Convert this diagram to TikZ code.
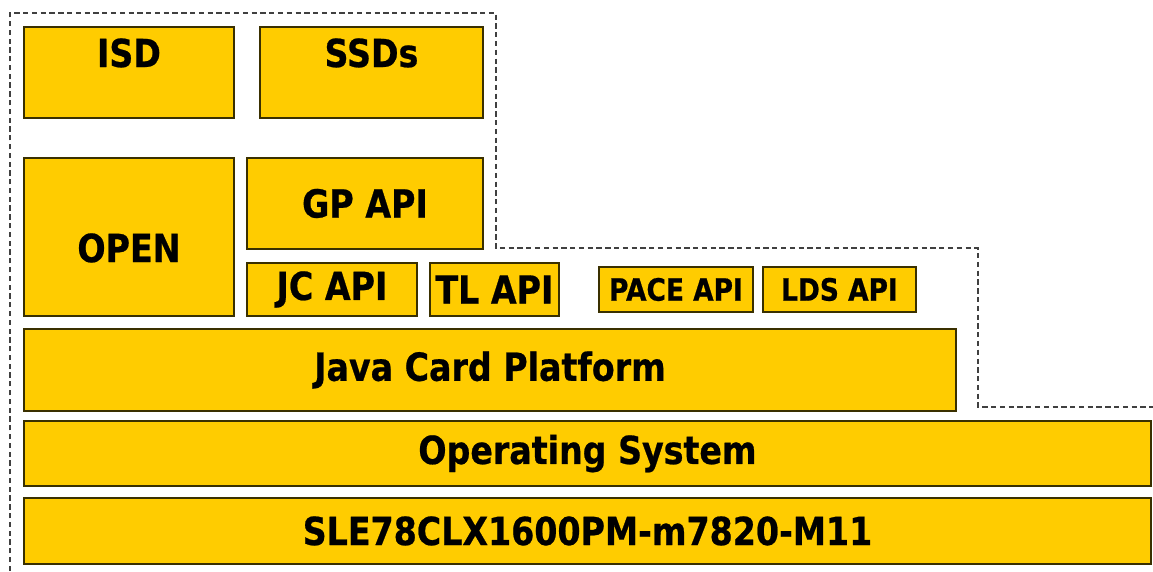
\documentclass[tikz,border=0pt]{standalone}
\usepackage{fontspec}
\setmainfont{DejaVu Sans}[FakeStretch=0.86, BoldFeatures={FakeBold=0.6}]
\usepackage{tikz}
\usetikzlibrary{positioning}
\definecolor{cardgold}{HTML}{FFCC00}
\definecolor{cardedge}{HTML}{3A3000}
\tikzset{
    layer/.style={rectangle, draw=cardedge, fill=cardgold, line width=1.1pt, anchor=north west, text centered, inner sep=0pt, font=\bfseries\fontsize{22}{26}\selectfont},
    api/.style={layer, font=\bfseries\fontsize{17.5}{20}\selectfont},
    toplabel/.style={anchor=north, inner sep=0pt, yshift=-0.24cm, font=\bfseries\fontsize{22}{26}\selectfont},
    midlabel/.style={inner sep=0pt, yshift=-0.22cm, font=\bfseries\fontsize{22}{26}\selectfont},
    boundary/.style={draw=black!75, line width=0.6pt, dash pattern=on 3pt off 2pt}
}
\begin{document}
\begin{tikzpicture}
    \useasboundingbox (0,0) rectangle (23.06,-11.42);
    % Applications
    \node (isd) [layer, minimum width=4.2cm, minimum height=1.82cm, label={[toplabel]north:ISD}] at (0.46,-0.52) {};
    \node (ssds) [layer, minimum width=4.46cm, minimum height=1.82cm, label={[toplabel]north:SSDs}] at (5.18,-0.52) {};
    % Platform APIs
    \node (open) [layer, minimum width=4.2cm, minimum height=3.16cm, label={[midlabel]center:OPEN}] at (0.46,-3.14) {};
    \node (gp_api) [layer, minimum width=4.72cm, minimum height=1.82cm] at (4.92,-3.14) {GP API};
    \node (jc_api) [layer, minimum width=3.4cm, minimum height=1.06cm] at (4.92,-5.24) {JC API};
    \node (tl_api) [layer, minimum width=2.58cm, minimum height=1.06cm] at (8.58,-5.24) {TL API};
    \node (pace_api) [api, minimum width=3.08cm, minimum height=0.9cm] at (11.96,-5.32) {PACE API};
    \node (lds_api) [api, minimum width=3.06cm, minimum height=0.9cm] at (15.24,-5.32) {LDS API};
    % Lower layers
    \node (jcp) [layer, minimum width=18.64cm, minimum height=1.64cm] at (0.46,-6.56) {Java Card Platform};
    \node (os) [layer, minimum width=22.54cm, minimum height=1.3cm] at (0.46,-8.4) {Operating System};
    \node (chip) [layer, minimum width=22.54cm, minimum height=1.32cm] at (0.46,-9.94) {SLE78CLX1600PM-m7820-M11};
    % Boundary
    \draw [boundary] (0.2,-11.42) -- (0.2,-0.26) -- (9.92,-0.26) -- (9.92,-4.96)
        -- (19.56,-4.96) -- (19.56,-8.14) -- (23.06,-8.14);
\end{tikzpicture}
\end{document}
